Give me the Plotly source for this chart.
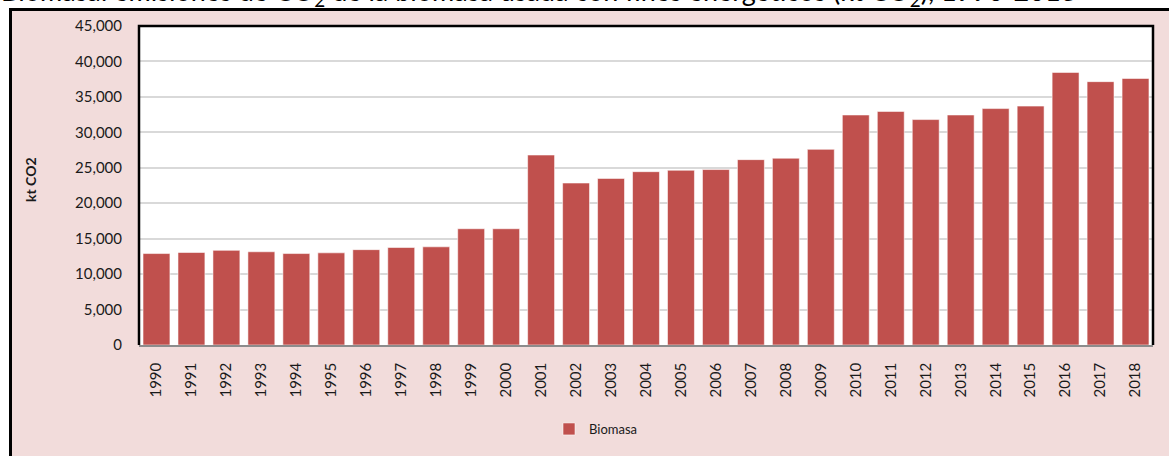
import plotly.graph_objects as go

# Annual CO2 emissions from biomass used for energy (kt CO2)
years = [str(y) for y in range(1990, 2019)]
biomasa = [
    12900, 13050, 13350, 13150, 12900, 13000, 13450, 13750, 13850, 16400,
    16400, 26800, 22850, 23500, 24450, 24650, 24750, 26150, 26350, 27600,
    32450, 32950, 31800, 32450, 33350, 33700, 38450, 37150, 37600,
]
y_ticks = list(range(0, 45001, 5000))
y_tick_text = [f"{v:,}" for v in y_ticks]

W, H = 1169, 456
L, R, T, B = 139, 16, 26, 111
PW, PH = W - L - R, H - T - B


def px_x(x):
    return (x - L) / PW


def px_y(y):
    return (H - B - y) / PH


FONT = "Lato, 'Open Sans', sans-serif"
BAR = "#C0504D"

fig = go.Figure()
fig.add_trace(go.Bar(
    x=years, y=biomasa, name="Biomasa",
    marker=dict(color=BAR, line=dict(color="rgba(255,255,255,0.55)", width=1)),
))

fig.update_layout(
    width=W, height=H,
    margin=dict(l=L, r=R, t=T, b=B, pad=0),
    paper_bgcolor="white",
    plot_bgcolor="white",
    bargap=0.23,
    font=dict(family=FONT, color="#1a1a1a", size=15),
    showlegend=True,
    legend=dict(
        orientation="h", x=px_x(596), xanchor="center",
        y=px_y(429), yanchor="middle",
        font=dict(size=13, color="#1a1a1a"),
        bgcolor="rgba(0,0,0,0)",
    ),
    xaxis=dict(
        type="category", range=[-0.5, len(years) - 0.5],
        tickangle=-90, ticks="", ticklabelstandoff=10,
        showgrid=False, showline=True, linecolor="#8C8C8C", linewidth=1.5,
        tickfont=dict(size=15),
    ),
    yaxis=dict(
        range=[0, 45000], tickvals=y_ticks, ticktext=y_tick_text,
        ticks="", ticklabelstandoff=16,
        showgrid=True, gridcolor="#D9D9D9", gridwidth=1.5,
        zeroline=False, showline=False,
        tickfont=dict(size=15),
    ),
    shapes=[
        # chart area background and frame
        dict(type="rect", xref="paper", yref="paper", layer="below",
             x0=px_x(10.5), x1=px_x(1185), y0=px_y(470), y1=px_y(9.5),
             fillcolor="#F2DCDB", line=dict(color="black", width=3)),
        # plot area background
        dict(type="rect", xref="paper", yref="paper", layer="below",
             x0=0, x1=1, y0=0, y1=1, fillcolor="white", line=dict(width=0)),
        # plot area border (left, top, right)
        dict(type="path", xref="paper", yref="paper", layer="above",
             path="M0,0 L0,1 L1,1 L1,0", line=dict(color="black", width=2.5)),
    ],
    annotations=[
        dict(text="kt CO2", xref="paper", yref="paper",
             x=px_x(30), y=px_y(180), xanchor="center", yanchor="middle",
             textangle=-90, showarrow=False,
             font=dict(size=14, color="#1a1a1a", family=FONT, weight="bold")),
        dict(text="Biomasa: emisiones de CO<sub>2</sub> de la biomasa usada con fines energéticos (kt CO<sub>2</sub>), 1990-2018",
             xref="paper", yref="paper", x=px_x(-1), y=px_y(13),
             xanchor="left", yanchor="bottom", showarrow=False,
             font=dict(size=27, color="black", family=FONT)),
    ],
)

fig.write_html("out.html")
